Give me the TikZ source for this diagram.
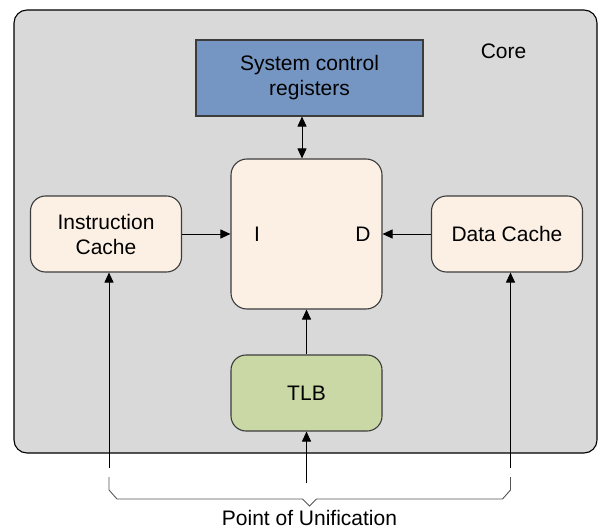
\documentclass[tikz,border=0pt]{standalone}
\usepackage{fontspec}
\setmainfont{Liberation Sans}
\usetikzlibrary{arrows.meta}
\definecolor{coregray}{RGB}{217,217,217}
\definecolor{regblue}{RGB}{117,150,194}
\definecolor{peach}{RGB}{252,240,228}
\definecolor{tlbgreen}{RGB}{201,216,164}
\definecolor{edge}{RGB}{60,60,60}
\definecolor{bracegray}{RGB}{85,85,85}
\tikzset{
  base/.style={draw=edge, line width=1.1pt, inner sep=0pt, align=center,
    font=\fontsize{21}{25}\selectfont},
  corebox/.style={base, draw=black, fill=coregray, rounded corners=13pt,
    minimum width=583pt, minimum height=443pt},
  regbox/.style={base, fill=regblue, minimum width=227pt, minimum height=76pt},
  cachebox/.style={base, fill=peach, rounded corners=15pt,
    minimum width=151pt, minimum height=76pt},
  pebox/.style={base, fill=peach, rounded corners=16pt,
    minimum width=151pt, minimum height=150pt},
  tlbbox/.style={base, fill=tlbgreen, rounded corners=15pt,
    minimum width=151pt, minimum height=76pt},
  lbl/.style={inner sep=0pt, font=\fontsize{21}{25}\selectfont},
  arr/.style={line width=0.9pt, -{Triangle[length=10pt,width=9pt]}},
  dbl/.style={line width=0.9pt, {Triangle[length=10pt,width=9pt]}-{Triangle[length=10pt,width=9pt]}},
  bracel/.style={draw=bracegray, line width=0.9pt}
}
\begin{document}
\begin{tikzpicture}[x=1pt,y=-1pt]
\useasboundingbox (0,0) rectangle (601,529);
\node[corebox] (core) at (305.5,231.5) {};
\node[lbl] (corelbl) at (503.5,51) {Core};
\node[regbox] (scr) at (309.5,78) {System control\\registers};
\node[pebox] (pe) at (306.5,234) {};
\node[lbl] (ilbl) at (257,234) {I};
\node[lbl] (dlbl) at (363,234) {D};
\node[cachebox] (ic) at (106,234) {Instruction\\Cache};
\node[cachebox] (dc) at (507,234) {Data Cache};
\node[tlbbox] (tlb) at (306.5,393) {TLB};
% connectors
\coordinate (sx) at (302,0);
\draw[dbl] (sx |- scr.south) -- (sx |- pe.north);
\draw[arr] (ic.east) -- (pe.west);
\draw[arr] (dc.west) -- (pe.east);
\draw[arr] (tlb.north) -- (pe.south);
\coordinate (ib) at (109,468);
\coordinate (db) at (510.5,468);
\coordinate (tb) at (306.5,483);
\draw[arr] (ib) -- (ib |- ic.south);
\draw[arr] (db) -- (db |- dc.south);
\draw[arr] (tb) -- (tlb.south);
% brace
\coordinate (bl) at (109,477);
\coordinate (br) at (510.5,477);
\coordinate (btip) at (309.5,506);
\draw[bracel] (bl) -- (109,490) -- (117,499) -- (302.5,499) -- (btip)
  -- (316.5,499) -- (502.5,499) -- (510.5,490) -- (br);
\node[lbl, anchor=base] (pou) at (309.5,525) {Point of Unification};
\end{tikzpicture}
\end{document}
